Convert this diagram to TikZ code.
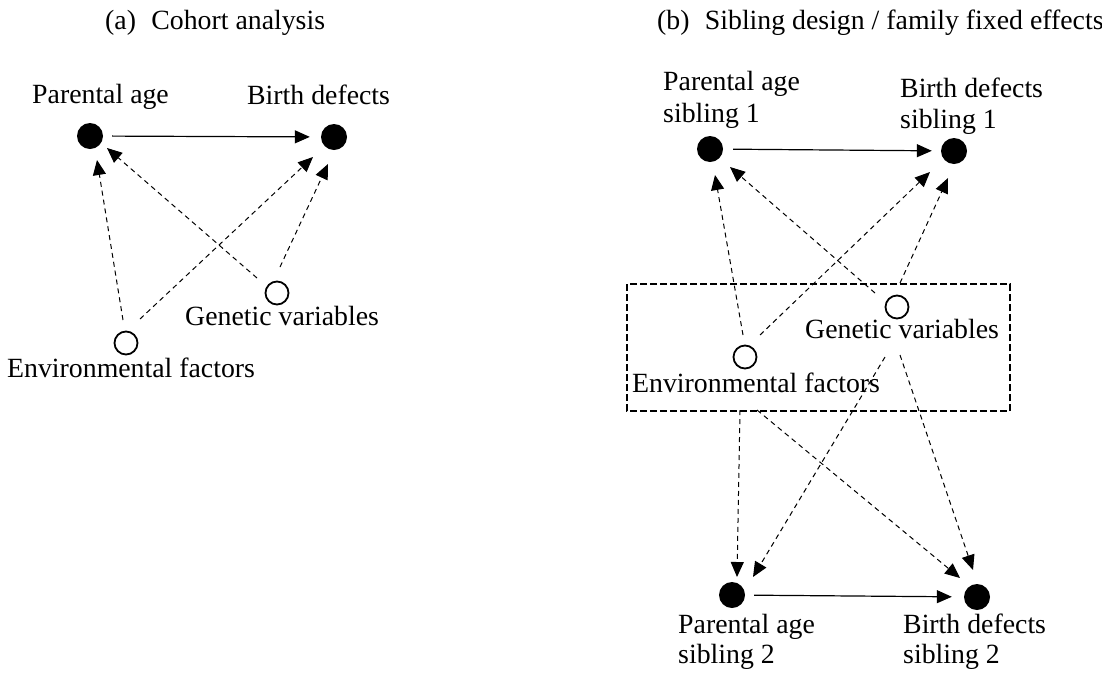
\documentclass[tikz,border=0pt]{standalone}
\usepackage{fontspec}
\setmainfont{Liberation Serif}
\usetikzlibrary{arrows.meta,calc}
\begin{document}
\begin{tikzpicture}[x=1pt,y=-1pt,
  font=\fontsize{27.8}{31}\selectfont,
  dot/.style={circle, fill=black, inner sep=0pt, minimum size=26pt},
  hollow/.style={circle, draw, line width=1.8pt, inner sep=0pt, minimum size=23pt},
  lbl/.style={inner sep=0pt, anchor=base west},
  cause/.style={line width=1.2pt, -{Triangle[length=15pt,width=13pt]}},
  conf/.style={line width=1pt, dash pattern=on 5pt off 4pt, -{Triangle[length=15pt,width=13pt]}},
  familybox/.style={draw, line width=2pt, dash pattern=on 7pt off 3pt}]
\useasboundingbox (0,0) rectangle (1102,673);

% ---------- (a) ----------
\node[lbl] (ta) at (105,29) {(a)\hspace{0.55em}Cohort analysis};
\node[dot] (pa) at (90,136) {};
\node[dot] (bd) at (334,137) {};
\node[hollow] (gen) at (277,293) {};
\node[hollow] (env) at (126,343) {};
\node[lbl] (lpa) at (32,103) {Parental age};
\node[lbl] (lbd) at (247,104) {Birth defects};
\node[lbl] (lgen) at (185,325) {Genetic variables};
\node[lbl] (lenv) at (7,377) {Environmental factors};

\draw[cause, shorten <=9pt, shorten >=11pt] (pa) -- (bd);
\draw[conf] ($(env)+(-3,-23)$) -- ($(pa)+(7,24)$);
\draw[conf] ($(env)+(14,-24)$) -- ($(bd)+(-21,20)$);
\draw[conf] ($(gen)+(-20,-15)$) -- ($(pa)+(17,12)$);
\draw[conf] ($(gen)+(3,-26)$) -- ($(bd)+(-6,27)$);

% ---------- (b) ----------
\node[lbl] (tb) at (657,29) {(b)\hspace{0.55em}Sibling design / family fixed effects};
\node[dot] (pa1) at (710,149) {};
\node[dot] (bd1) at (954,151) {};
\node[hollow] (gen2) at (897,307) {};
\node[hollow] (env2) at (745,357) {};
\node[dot] (pa2) at (732,595) {};
\node[dot] (bd2) at (977,597) {};

\node[lbl] (lpa1) at (663,90) {Parental age};
\node[lbl] (lpa1b) at (663,122) {sibling 1};
\node[lbl] (lbd1) at (900,97) {Birth defects};
\node[lbl] (lbd1b) at (900,128) {sibling 1};
\node[lbl] (lgen2) at (805,338) {Genetic variables};
\node[lbl] (lenv2) at (632,392) {Environmental factors};
\node[lbl] (lpa2) at (678,633) {Parental age};
\node[lbl] (lpa2b) at (678,663) {sibling 2};
\node[lbl] (lbd2) at (903,633) {Birth defects};
\node[lbl] (lbd2b) at (903,663) {sibling 2};

\draw[familybox] (627,284) rectangle (1010,411);

\draw[cause, shorten <=10pt, shorten >=9pt] (pa1) -- (bd1);
\draw[cause, shorten <=9pt, shorten >=12pt] (pa2) -- (bd2);

\draw[conf] ($(env2)+(-2,-22)$) -- ($(pa1)+(5,26)$);
\draw[conf] ($(env2)+(15,-22)$) -- ($(bd1)+(-24,21)$);
\draw[conf] ($(gen2)+(-22,-14)$) -- ($(pa1)+(20,18)$);
\draw[conf] ($(gen2)+(3,-24)$) -- ($(bd1)+(-6,27)$);
\draw[conf] ($(env2)+(-5,53)$) -- ($(pa2)+(5,-18)$);
\draw[conf] ($(env2)+(12,53)$) -- ($(bd2)+(-17,-19)$);
\draw[conf] ($(gen2)+(-12,50)$) -- ($(pa2)+(21,-18)$);
\draw[conf] ($(gen2)+(3,48)$) -- ($(bd2)+(-4,-27)$);
\end{tikzpicture}
\end{document}
